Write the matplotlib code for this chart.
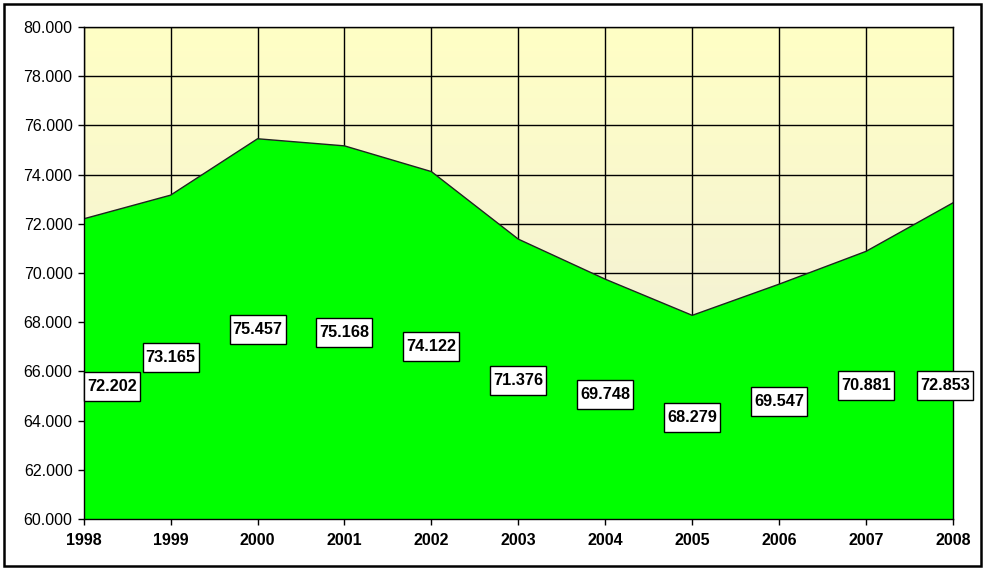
import matplotlib
matplotlib.use("Agg")
import matplotlib.pyplot as plt
import numpy as np
from matplotlib.patches import Rectangle
from matplotlib.transforms import IdentityTransform

years = [1998, 1999, 2000, 2001, 2002, 2003, 2004, 2005, 2006, 2007, 2008]
values = [72.202, 73.165, 75.457, 75.168, 74.122, 71.376, 69.748, 68.279, 69.547, 70.881, 72.853]
y_ticks = [60, 62, 64, 66, 68, 70, 72, 74, 76, 78, 80]

# layout: label box centres (data-y) and horizontal pixel shifts, as placed in the reference
label_y = [65.37, 66.57, 67.70, 67.57, 67.03, 65.65, 65.05, 64.12, 64.76, 65.43, 65.43]
label_dx = [28, 0, 0, 0, 0, 0, 0, 0, 0, 0, -8]

plt.rcParams['font.family'] = ['Liberation Sans', 'DejaVu Sans']

fig = plt.figure(figsize=(9.83, 5.68), dpi=100)
ax = fig.add_axes([83.7 / 983, 49 / 568, 869.3 / 983, 492 / 568])

x = np.arange(len(years))
ax.set_xlim(x[0], x[-1])
ax.set_ylim(60, 80)

# gradient background
grad = np.linspace(0, 1, 256).reshape(-1, 1)
top = np.array([255, 255, 197]) / 255
bot = np.array([238, 234, 222]) / 255
img = top[None, None, :] * (1 - grad[:, :, None]) + bot[None, None, :] * grad[:, :, None]
ax.imshow(img, extent=[x[0], x[-1], 60, 80], aspect='auto', zorder=0, origin='upper')

ax.set_axisbelow(True)
ax.grid(True, color='black', linewidth=1.0, zorder=1)

ax.fill_between(x, 60, values, color='#00FF00', edgecolor='none', zorder=2)
ax.plot(x, values, color='#222222', linewidth=1.0, zorder=3)

texts = []
for xi, v, ly, dx in zip(x, values, label_y, label_dx):
    t = ax.annotate(f"{v:.3f}", xy=(xi, ly), xytext=(dx * 0.72, 0), textcoords='offset points',
                    ha='center', va='center', fontsize=11.7, fontweight='bold', zorder=6,
                    annotation_clip=False)
    texts.append(t)

ax.set_xticks(x)
ax.set_xticklabels([str(y) for y in years], fontsize=11.5, fontweight='bold')
ax.set_yticks(y_ticks)
ax.set_yticklabels([f"{t:.3f}" for t in y_ticks], fontsize=11.5)
ax.tick_params(axis='both', direction='out', length=4, width=1, color='black')
ax.tick_params(axis='x', pad=6)
ax.tick_params(axis='y', pad=4)
for s in ax.spines.values():
    s.set_color('black')
    s.set_linewidth(1.0)
    s.set_zorder(4)

# label boxes sized around the text (Excel-like tight horizontal padding)
fig.canvas.draw()
for t in texts:
    bb = t.get_window_extent()
    cx = (bb.x0 + bb.x1) / 2
    cy = (bb.y0 + bb.y1) / 2
    w = bb.width + 6
    h = 29
    r = Rectangle((cx - w / 2, cy - h / 2), w, h, transform=IdentityTransform(),
                  facecolor='white', edgecolor='black', linewidth=1.0, zorder=5, clip_on=False)
    ax.add_patch(r)

# outer chart border
fig.patches.append(Rectangle((3.5 / 983, 2.5 / 568), 977.5 / 983, 561.5 / 568, transform=fig.transFigure,
                             fill=False, edgecolor='black', linewidth=1.8))

fig.savefig('out.png', dpi=100)
